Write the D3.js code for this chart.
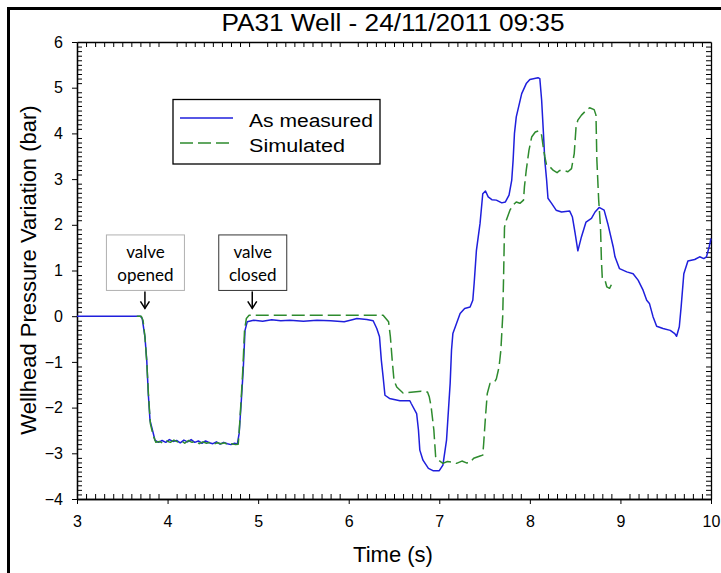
<!DOCTYPE html>
<html>
<head>
<meta charset="utf-8">
<script src="https://cdn.jsdelivr.net/npm/d3@7"></script>
<style>
  html, body { margin: 0; padding: 0; background: #fff; }
  svg { display: block; }
  text { font-family: "Liberation Sans", Arial, sans-serif; fill: #000; }
</style>
</head>
<body>
<svg id="chart" width="721" height="573"></svg>
<script>
// ---------------- DATA ----------------
const chartTitle = "PA31 Well - 24/11/2011 09:35";
const xLabel = "Time (s)";
const yLabel = "Wellhead Pressure Variation (bar)";
const seriesNames = ["As measured", "Simulated"];
const xTicks = [3, 4, 5, 6, 7, 8, 9, 10];
const yTicks = [-4, -3, -2, -1, 0, 1, 2, 3, 4, 5, 6];

const measuredTime = [3.00, 3.70, 3.72, 3.75, 3.77, 3.787, 3.806, 3.842, 3.86, 3.90, 3.94, 3.98, 4.02, 4.06, 4.10, 4.14, 4.18, 4.22, 4.26, 4.30, 4.34, 4.38, 4.42, 4.46, 4.50, 4.54, 4.58, 4.62, 4.66, 4.70, 4.74, 4.77, 4.79, 4.81, 4.835, 4.855, 4.88, 4.95, 5.05, 5.15, 5.25, 5.35, 5.50, 5.65, 5.80, 5.95, 6.05, 6.09, 6.20, 6.27, 6.31, 6.34, 6.36, 6.38, 6.40, 6.45, 6.565, 6.675, 6.69, 6.75, 6.77, 6.785, 6.82, 6.88, 6.93, 7.00, 7.04, 7.08, 7.12, 7.135, 7.15, 7.19, 7.23, 7.28, 7.34, 7.37, 7.385, 7.40, 7.41, 7.45, 7.48, 7.51, 7.54, 7.58, 7.63, 7.69, 7.73, 7.77, 7.80, 7.815, 7.83, 7.85, 7.91, 7.96, 8.00, 8.09, 8.11, 8.13, 8.15, 8.165, 8.185, 8.20, 8.24, 8.29, 8.35, 8.44, 8.47, 8.50, 8.53, 8.57, 8.62, 8.68, 8.72, 8.765, 8.82, 8.86, 8.92, 8.94, 8.99, 9.07, 9.14, 9.195, 9.25, 9.29, 9.32, 9.36, 9.40, 9.47, 9.55, 9.60, 9.62, 9.65, 9.67, 9.70, 9.745, 9.82, 9.875, 9.92, 9.95, 9.98, 10.00];
const measuredValue = [0.00, 0.00, -0.05, -0.45, -0.96, -1.69, -2.28, -2.56, -2.71, -2.76, -2.72, -2.76, -2.70, -2.74, -2.72, -2.77, -2.71, -2.75, -2.70, -2.76, -2.73, -2.78, -2.73, -2.77, -2.79, -2.75, -2.80, -2.76, -2.79, -2.81, -2.78, -2.80, -2.57, -1.98, -1.18, -0.31, -0.12, -0.09, -0.11, -0.08, -0.10, -0.09, -0.11, -0.09, -0.10, -0.12, -0.07, -0.05, -0.07, -0.10, -0.27, -0.45, -0.96, -1.33, -1.73, -1.80, -1.85, -1.85, -1.91, -2.13, -2.49, -2.93, -3.15, -3.33, -3.38, -3.38, -3.26, -2.71, -1.47, -0.74, -0.38, -0.16, 0.06, 0.17, 0.20, 0.35, 0.72, 1.15, 1.44, 2.03, 2.68, 2.74, 2.61, 2.55, 2.54, 2.48, 2.50, 2.65, 2.98, 3.41, 4.00, 4.36, 4.87, 5.09, 5.18, 5.22, 5.20, 4.73, 4.00, 3.41, 2.98, 2.58, 2.47, 2.32, 2.28, 2.30, 2.17, 1.81, 1.43, 1.74, 2.06, 2.14, 2.28, 2.38, 2.32, 2.03, 1.52, 1.30, 1.04, 0.97, 0.93, 0.79, 0.57, 0.35, 0.28, -0.01, -0.22, -0.27, -0.31, -0.38, -0.44, -0.23, 0.20, 0.93, 1.21, 1.24, 1.30, 1.26, 1.30, 1.52, 1.70];

const simulatedTime = [3.66, 3.71, 3.73, 3.75, 3.77, 3.79, 3.81, 3.84, 3.87, 3.91, 3.95, 3.99, 4.03, 4.07, 4.11, 4.15, 4.19, 4.23, 4.27, 4.31, 4.35, 4.39, 4.43, 4.47, 4.51, 4.55, 4.59, 4.63, 4.67, 4.71, 4.75, 4.78, 4.79, 4.81, 4.83, 4.85, 4.87, 4.90, 6.38, 6.44, 6.46, 6.48, 6.50, 6.53, 6.60, 6.80, 6.87, 6.89, 6.91, 6.94, 6.96, 6.99, 7.04, 7.09, 7.135, 7.19, 7.25, 7.30, 7.34, 7.38, 7.45, 7.48, 7.49, 7.51, 7.53, 7.56, 7.61, 7.63, 7.66, 7.68, 7.70, 7.71, 7.72, 7.74, 7.78, 7.815, 7.85, 7.89, 7.93, 7.94, 7.96, 7.99, 8.02, 8.06, 8.10, 8.13, 8.15, 8.165, 8.185, 8.22, 8.26, 8.30, 8.33, 8.39, 8.42, 8.46, 8.49, 8.51, 8.53, 8.57, 8.63, 8.66, 8.71, 8.73, 8.74, 8.76, 8.78, 8.79, 8.80, 8.83, 8.85, 8.88, 8.91];
const simulatedValue = [0.00, 0.00, -0.10, -0.45, -1.00, -1.75, -2.35, -2.60, -2.76, -2.74, -2.78, -2.73, -2.76, -2.71, -2.75, -2.72, -2.78, -2.72, -2.76, -2.74, -2.79, -2.75, -2.78, -2.76, -2.80, -2.77, -2.79, -2.77, -2.82, -2.79, -2.81, -2.80, -2.55, -1.90, -1.20, -0.30, -0.05, 0.02, 0.02, -0.12, -0.45, -0.96, -1.40, -1.55, -1.68, -1.64, -1.66, -1.77, -1.98, -2.49, -3.08, -3.15, -3.22, -3.18, -3.19, -3.22, -3.17, -3.21, -3.20, -3.11, -3.06, -3.04, -2.79, -2.20, -1.69, -1.47, -1.44, -1.37, -1.11, -0.74, -0.01, 0.86, 1.95, 2.10, 2.32, 2.43, 2.50, 2.47, 2.54, 2.83, 3.19, 3.63, 3.92, 4.03, 4.06, 3.96, 3.67, 3.49, 3.30, 3.27, 3.19, 3.14, 3.19, 3.18, 3.16, 3.23, 3.56, 4.14, 4.29, 4.40, 4.52, 4.56, 4.52, 4.40, 3.41, 2.54, 1.95, 1.23, 0.82, 0.79, 0.64, 0.61, 0.73];

const annotationLabels = [["valve", "opened"], ["valve", "closed"]];
const annotationTime = [3.75, 4.935];
const annotationValue = [0.17, 0.17];
const seriesColors = ["#1f1fdc", "#2e8b2e"];

// ---------------- LAYOUT ----------------
const svg = d3.select("#chart");
const plotL = 77, plotR = 711, plotT = 42, plotB = 499;
const x = d3.scaleLinear().domain([3, 10]).range([plotL, plotR]);
const y = d3.scaleLinear().domain([-4, 6]).range([plotB, plotT]);

// outer frame
svg.append("rect").attr("x", 8.5).attr("y", 8.5).attr("width", 760).attr("height", 620)
  .attr("fill", "none").attr("stroke", "#000").attr("stroke-width", 3);

// minor tick values
const xMinor = d3.range(30, 101).filter(v => v % 10 !== 0).map(v => v / 10);
const yMinor = d3.range(-40, 61).filter(v => v % 10 !== 0).map(v => v / 10);

function styleAxis(g) {
  g.select(".domain").attr("stroke", "#000").attr("stroke-width", 1.3);
  g.selectAll(".tick line").attr("stroke", "#000").attr("stroke-width", 1);
  g.selectAll("text").style("font-family", "'Liberation Sans', Arial, sans-serif").style("font-size", "16px").attr("fill", "#000");
}

// bottom: minor inward, major outward w/ labels
svg.append("g").attr("transform", `translate(0,${plotB})`)
  .call(d3.axisBottom(x).tickValues(xMinor).tickSize(-5).tickSizeOuter(0).tickFormat(""))
  .call(styleAxis);
svg.append("g").attr("transform", `translate(0,${plotB})`)
  .call(d3.axisBottom(x).tickValues(xTicks).tickSize(5).tickSizeOuter(0).tickPadding(12).tickFormat(d3.format("d")))
  .call(styleAxis);
// left
svg.append("g").attr("transform", `translate(${plotL},0)`)
  .call(d3.axisLeft(y).tickValues(yMinor).tickSize(-5).tickSizeOuter(0).tickFormat(""))
  .call(styleAxis);
svg.append("g").attr("transform", `translate(${plotL},0)`)
  .call(d3.axisLeft(y).tickValues(yTicks).tickSize(5).tickSizeOuter(0).tickPadding(9).tickFormat(d3.format("d")))
  .call(styleAxis);
// top mirror
svg.append("g").attr("transform", `translate(0,${plotT})`)
  .call(d3.axisTop(x).tickValues(xMinor).tickSize(-5).tickSizeOuter(0).tickFormat(""))
  .call(styleAxis);
// right mirror
svg.append("g").attr("transform", `translate(${plotR},0)`)
  .call(d3.axisRight(y).tickValues(yMinor).tickSize(-5).tickSizeOuter(0).tickFormat(""))
  .call(styleAxis);

// lines
const line = d3.line().x(d => x(d[0])).y(d => y(d[1]));
const measured = d3.zip(measuredTime, measuredValue);
const simulated = d3.zip(simulatedTime, simulatedValue);

svg.append("path").datum(measured).attr("d", line)
  .attr("fill", "none").attr("stroke", seriesColors[0]).attr("stroke-width", 1.5)
  .attr("stroke-linejoin", "round");
svg.append("path").datum(simulated).attr("d", line)
  .attr("fill", "none").attr("stroke", seriesColors[1]).attr("stroke-width", 1.5)
  .attr("stroke-dasharray", "13,5").attr("stroke-linejoin", "round");

// title & labels
svg.append("text").attr("x", 393).attr("y", 31).attr("text-anchor", "middle")
  .style("font-size", "23px").attr("textLength", 343).attr("lengthAdjust", "spacingAndGlyphs")
  .text(chartTitle);
svg.append("text").attr("x", 393).attr("y", 562).attr("text-anchor", "middle")
  .style("font-size", "22px").text(xLabel);
svg.append("text").attr("transform", "translate(36,270) rotate(-90)").attr("text-anchor", "middle")
  .style("font-size", "22px").text(yLabel);

// legend
const leg = svg.append("g");
leg.append("rect").attr("x", 173).attr("y", 99.5).attr("width", 207).attr("height", 64.5)
  .attr("fill", "#fff").attr("stroke", "#000").attr("stroke-width", 1.3);
seriesNames.forEach((name, i) => {
  const ly = 118 + i * 25;
  leg.append("line").attr("x1", 180).attr("x2", 233).attr("y1", ly).attr("y2", ly)
    .attr("stroke", seriesColors[i]).attr("stroke-width", 1.5)
    .attr("stroke-dasharray", i === 1 ? "13,5" : null);
  leg.append("text").attr("x", 249).attr("y", ly + 9)
    .style("font-size", "18px")
    .attr("textLength", i === 0 ? 124 : 96).attr("lengthAdjust", "spacingAndGlyphs")
    .text(name);
});

// annotations
const boxW = [78, 68], boxStroke = ["#b0b0b0", "#333"];
annotationLabels.forEach((lines, i) => {
  const ax = x(annotationTime[i]);
  const ay = y(annotationValue[i]);
  const g = svg.append("g");
  const bx = i === 0 ? ax - 39 : ax - 34;
  g.append("rect").attr("x", bx + 0.5).attr("y", ay - 73.5).attr("width", boxW[i]).attr("height", 55.5)
    .attr("fill", "#fff").attr("stroke", boxStroke[i]).attr("stroke-width", 1);
  lines.forEach((t, j) => {
    g.append("text").attr("x", bx + boxW[i] / 2 + 0.5).attr("y", ay - 50 + j * 23)
      .attr("text-anchor", "middle").style("font-family", "Lato, 'Open Sans', sans-serif")
      .style("font-size", "17px").text(t);
  });
  g.append("line").attr("x1", ax).attr("x2", ax).attr("y1", ay - 17).attr("y2", ay)
    .attr("stroke", "#000").attr("stroke-width", 1.5);
  g.append("path").attr("d", `M${ax - 4.5},${ay - 7} L${ax},${ay} L${ax + 4.5},${ay - 7}`)
    .attr("fill", "none").attr("stroke", "#000").attr("stroke-width", 1.5);
});
</script>
</body>
</html>
